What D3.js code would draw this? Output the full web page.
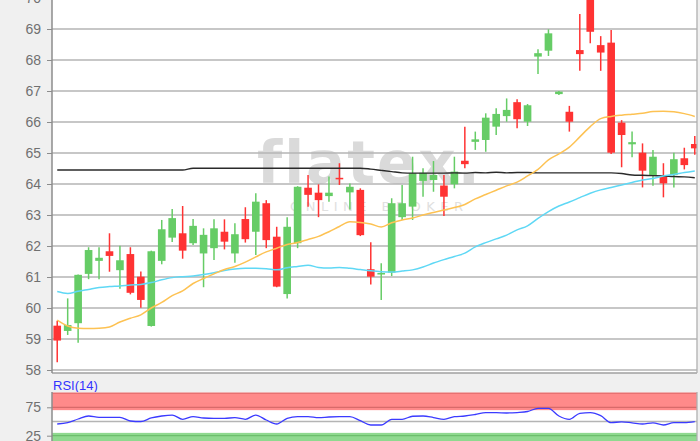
<!DOCTYPE html>
<html><head><meta charset="utf-8">
<script src="https://cdn.jsdelivr.net/npm/d3@7"></script>
<style>html,body{margin:0;padding:0;background:#f0f0f0;overflow:hidden}svg{display:block}</style>
</head><body>
<svg id="c" width="700" height="441"></svg>
<script>
// ---- data ----
const openV  = [59.43,59.26,59.51,61.10,61.52,61.83,61.22,61.74,61.01,59.42,61.52,62.27,62.41,62.09,61.76,61.93,62.46,61.76,62.87,62.46,63.38,62.30,60.45,62.09,63.88,63.72,63.61,64.20,63.73,63.81,61.25,61.08,61.14,62.93,63.27,64.10,64.13,63.95,63.99,64.75,65.36,65.42,65.85,66.19,66.64,66.01,68.11,68.30,66.90,66.33,68.32,70.40,68.48,68.56,65.98,65.28,65.01,64.26,64.26,64.29,64.83,65.29];
const highV  = [59.59,60.31,61.08,61.96,61.96,62.41,62.01,61.96,61.18,61.85,62.84,63.19,63.29,62.87,62.57,62.86,62.86,62.73,63.25,63.70,63.48,62.62,62.93,63.93,64.29,63.99,64.24,64.67,64.02,63.86,62.12,61.44,63.54,63.97,64.88,64.51,64.74,64.29,64.88,65.85,65.69,66.28,66.44,66.76,66.73,66.58,68.35,68.99,67.00,66.52,69.48,70.60,68.77,68.97,66.06,65.69,65.31,65.10,64.67,65.01,65.17,65.55];
const lowV   = [58.25,59.13,58.88,60.93,60.93,61.17,60.62,60.44,60.01,59.40,61.41,62.13,61.59,62.03,60.67,61.55,61.89,61.46,62.11,61.71,61.93,60.67,60.31,61.93,63.27,62.93,63.43,63.97,63.18,62.32,60.76,60.26,61.03,62.84,62.84,63.59,63.75,62.97,63.86,64.51,65.10,65.04,65.58,66.01,65.80,65.87,67.55,68.13,66.87,65.69,67.65,68.54,67.65,64.97,64.54,64.86,63.89,63.94,63.57,63.89,64.47,64.94];
const closeV = [58.95,59.45,61.07,61.87,61.62,61.68,61.54,60.49,60.26,61.83,62.54,62.90,61.85,62.65,62.36,62.57,62.14,62.38,62.22,63.43,62.19,60.69,62.62,63.91,63.65,63.48,63.72,64.15,63.91,62.35,61.01,61.13,63.38,63.38,64.35,64.36,64.29,63.59,64.40,64.64,65.44,66.14,66.26,66.39,66.09,66.54,68.22,68.86,66.98,66.01,68.19,68.91,68.24,65.01,65.58,65.35,64.43,64.88,64.02,64.80,64.61,65.15];
const sma20  = [59.61,59.42,59.35,59.34,59.35,59.39,59.55,59.67,59.78,60.00,60.18,60.40,60.55,60.79,60.95,61.10,61.24,61.34,61.48,61.65,61.81,61.93,62.05,62.11,62.21,62.31,62.46,62.63,62.78,62.76,62.71,62.61,62.75,62.84,62.90,63.00,63.08,63.16,63.24,63.34,63.52,63.66,63.80,63.94,64.06,64.26,64.47,64.78,64.97,65.19,65.52,65.85,66.11,66.18,66.22,66.25,66.28,66.34,66.35,66.33,66.27,66.18];
const sma50  = [60.53,60.47,60.54,60.60,60.66,60.69,60.71,60.74,60.76,60.82,60.91,60.98,61.01,61.03,61.08,61.14,61.21,61.26,61.28,61.28,61.27,61.23,61.30,61.34,61.38,61.31,61.29,61.31,61.28,61.24,61.20,61.17,61.16,61.19,61.23,61.32,61.45,61.56,61.66,61.77,61.97,62.11,62.23,62.35,62.52,62.65,62.89,63.11,63.29,63.42,63.56,63.70,63.81,63.89,63.97,64.05,64.13,64.18,64.26,64.31,64.37,64.42];
const sma200 = [64.45,64.45,64.45,64.45,64.45,64.45,64.45,64.45,64.45,64.45,64.45,64.45,64.45,64.51,64.51,64.51,64.51,64.51,64.51,64.51,64.51,64.51,64.51,64.51,64.51,64.51,64.51,64.51,64.51,64.51,64.48,64.44,64.40,64.36,64.35,64.35,64.35,64.35,64.36,64.35,64.37,64.36,64.38,64.36,64.37,64.37,64.36,64.36,64.36,64.36,64.36,64.36,64.36,64.36,64.34,64.29,64.28,64.27,64.26,64.24,64.23,64.20];
const rsi    = [45.6,47.9,54.4,59.7,57.4,57.4,57.4,50.9,50.0,56.2,59.7,61.4,53.9,58.5,56.2,55.6,55.6,56.7,53.9,61.4,52.6,45.6,55.6,58.5,58.5,56.7,57.9,58.5,58.5,51.4,43.8,43.8,53.9,53.9,59.2,59.7,57.0,53.9,58.5,59.7,62.3,65.5,65.5,65.0,65.8,67.6,73.2,73.2,59.7,53.9,64.4,65.5,60.2,47.9,49.5,47.7,45.6,47.5,43.8,47.9,47.9,49.6];
const yTicks   = [58,59,60,61,62,63,64,65,66,67,68,69,70];
const rsiTicks = [25,75];
const rsiLabel = "RSI(14)";

// ---- layout ----
const svg = d3.select("#c");
const L = 52, R = 697, mainTop = -30, mainBot = 373;
const rsiTop = 392, rsiBot = 470;
const n = openV.length;
const x = d3.scaleBand().domain(d3.range(n)).range([52, 700]).paddingInner(0.27).paddingOuter(0.135);
const xc = i => x(i) + x.bandwidth() / 2;
const y = d3.scaleLinear().domain([58, 70]).range([370, -2]);
const yr = d3.scaleLinear().domain([0, 100]).range([449.9, 393.1]);

svg.append("rect").attr("width", 700).attr("height", 441).attr("fill", "#f0f0f0");

svg.append("defs").append("clipPath").attr("id", "mclip")
  .append("rect").attr("x", L).attr("y", mainTop).attr("width", R - L).attr("height", mainBot - mainTop);

// main plot
svg.append("rect").attr("x", L).attr("y", mainTop).attr("width", R - L).attr("height", mainBot - mainTop).attr("fill", "#fff");

// watermark
const wm = svg.append("g").attr("clip-path", "url(#mclip)");
wm.append("text").attr("x", 257).attr("y", 183).text("flatex.")
  .attr("font-family", "'DejaVu Sans', sans-serif").attr("font-weight", "bold")
  .attr("font-size", 58).attr("letter-spacing", 2).attr("fill", "#dadada");
wm.append("text").attr("x", 290).attr("y", 211).text("ONLINE BROKER")
  .attr("font-family", "'DejaVu Sans', sans-serif")
  .attr("font-size", 13).attr("letter-spacing", 5.5).attr("fill", "#e0e0e0");

// gridlines
svg.append("g").selectAll("line").data(yTicks).join("line")
  .attr("x1", L).attr("x2", R).attr("y1", d => y(d)).attr("y2", d => y(d))
  .attr("stroke", "#b4b4b4").attr("stroke-width", 1.3);

// candles
const cg = svg.append("g").attr("clip-path", "url(#mclip)");
const idx = d3.range(n);
const col = i => closeV[i] >= openV[i] ? "#66cc66" : "#ff3333";
cg.selectAll("line.w").data(idx).join("line").attr("class", "w")
  .attr("x1", xc).attr("x2", xc).attr("y1", i => y(highV[i])).attr("y2", i => y(lowV[i]))
  .attr("stroke", col).attr("stroke-width", 1.5);
cg.selectAll("rect.b").data(idx).join("rect").attr("class", "b")
  .attr("x", i => x(i)).attr("width", x.bandwidth())
  .attr("y", i => y(Math.max(openV[i], closeV[i])))
  .attr("height", i => Math.max(1.5, Math.abs(y(openV[i]) - y(closeV[i]))))
  .attr("fill", col);

// moving averages
const lineOf = (arr, sc) => d3.line().x((d, i) => xc(i)).y(d => sc(d)).curve(d3.curveMonotoneX)(arr);
cg.append("path").attr("d", lineOf(sma200, y)).attr("fill", "none").attr("stroke", "#2a2a2a").attr("stroke-width", 1.4);
cg.append("path").attr("d", lineOf(sma50, y)).attr("fill", "none").attr("stroke", "#5fd8f5").attr("stroke-width", 1.5);
cg.append("path").attr("d", lineOf(sma20, y)).attr("fill", "none").attr("stroke", "#fdc253").attr("stroke-width", 1.5);

// borders
svg.append("line").attr("x1", L).attr("x2", R).attr("y1", mainBot).attr("y2", mainBot).attr("stroke", "#a0a0a0").attr("stroke-width", 1.3);
svg.append("line").attr("x1", R).attr("x2", R).attr("y1", mainTop).attr("y2", mainBot).attr("stroke", "#b0b0b0").attr("stroke-width", 1.3);

// y axis
const ya = svg.append("g").attr("transform", `translate(${L},0)`)
  .call(d3.axisLeft(y).tickValues(yTicks).tickSize(5).tickPadding(6).tickFormat(d3.format("d")));
ya.select(".domain").attr("stroke", "#8c8c8c").attr("stroke-width", 1.5).attr("d", `M0,${mainTop}V${mainBot}`);
ya.selectAll(".tick line").attr("stroke", "#8c8c8c");
ya.selectAll(".tick text").attr("fill", "#707070").attr("font-size", 14).attr("font-family", "'Liberation Sans', Arial, sans-serif");

// RSI panel
svg.append("text").attr("x", 53).attr("y", 390).text(rsiLabel)
  .attr("fill", "#3333ff").attr("font-size", 13).attr("font-family", "'Liberation Sans', Arial, sans-serif");
svg.append("rect").attr("x", L).attr("y", rsiTop).attr("width", R - L).attr("height", rsiBot - rsiTop).attr("fill", "#fff");
svg.append("rect").attr("x", L).attr("y", yr(100)).attr("width", R - L).attr("height", yr(70) - yr(100)).attr("fill", "#ff8a8a");
svg.append("rect").attr("x", L).attr("y", yr(30)).attr("width", R - L).attr("height", yr(0) - yr(30)).attr("fill", "#8fd98f");
svg.append("line").attr("x1", L).attr("x2", R).attr("y1", yr(100)).attr("y2", yr(100)).attr("stroke", "#e06666").attr("stroke-width", 1.3);
svg.append("g").selectAll("line").data([25, 50, 75]).join("line")
  .attr("x1", L).attr("x2", R).attr("y1", d => yr(d)).attr("y2", d => yr(d))
  .attr("stroke", d => d === 75 ? "#d86a6a" : d === 25 ? "#6cbf6c" : "#b4b4b4").attr("stroke-width", 1.3);
svg.append("path").attr("d", lineOf(rsi, yr)).attr("fill", "none").attr("stroke", "#3b3bff").attr("stroke-width", 1.3);
svg.append("line").attr("x1", R).attr("x2", R).attr("y1", rsiTop).attr("y2", rsiBot).attr("stroke", "#b0b0b0").attr("stroke-width", 1.3);
const ra = svg.append("g").attr("transform", `translate(${L},0)`)
  .call(d3.axisLeft(yr).tickValues(rsiTicks).tickSize(5).tickPadding(6));
ra.select(".domain").attr("stroke", "#8c8c8c").attr("stroke-width", 1.5).attr("d", `M0,${rsiTop}V${rsiBot}`);
ra.selectAll(".tick line").attr("stroke", "#8c8c8c");
ra.selectAll(".tick text").attr("fill", "#707070").attr("font-size", 14).attr("font-family", "'Liberation Sans', Arial, sans-serif");
</script>
</body></html>
